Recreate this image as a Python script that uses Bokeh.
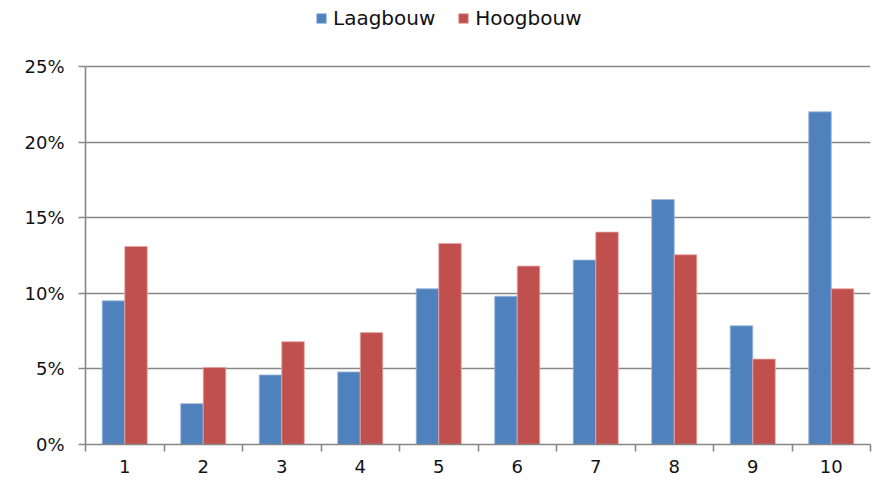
from bokeh.plotting import figure
from bokeh.models import FixedTicker, Legend, LegendItem, ColumnDataSource, CustomJSTickFormatter
from bokeh.embed import file_html
from bokeh.resources import INLINE

categories = [1, 2, 3, 4, 5, 6, 7, 8, 9, 10]
laagbouw = [9.5, 2.7, 4.6, 4.8, 10.3, 9.8, 12.2, 16.2, 7.85, 22.0]
hoogbouw = [13.1, 5.1, 6.8, 7.4, 13.3, 11.8, 14.05, 12.55, 5.65, 10.3]
y_ticks = [0, 5, 10, 15, 20, 25]

BAR_W = 0.287
FONT = "DejaVu Sans"
GRID = "#878787"
Y_MAX = 25
# frame spans the legend area too; axis and grid are bounded to 0..25
Y_TOP = Y_MAX * 444 / 378

p = figure(width=872, height=481, output_backend="svg", toolbar_location=None,
           x_range=(0.5, 10.5), y_range=(0, Y_TOP),
           min_border_left=85, min_border_right=2, min_border_top=0, min_border_bottom=37)
p.outline_line_color = None

src = ColumnDataSource(dict(
    xl=[c - BAR_W / 2 for c in categories],
    xh=[c + BAR_W / 2 for c in categories],
    laag=laagbouw, hoog=hoogbouw))

r1 = p.vbar(x="xl", top="laag", width=BAR_W, source=src, fill_color="#4F81BD",
            line_color="#9bb7dc", line_width=0.8)
r2 = p.vbar(x="xh", top="hoog", width=BAR_W, source=src, fill_color="#C0504D",
            line_color="#e6a9a7", line_width=0.8)

# x axis
p.xaxis.ticker = FixedTicker(ticks=categories, minor_ticks=[c - 0.5 for c in categories] + [categories[-1] + 0.5])
p.xaxis.major_tick_out = 0
p.xaxis.major_tick_in = 0
p.xaxis.minor_tick_out = 7
p.xaxis.minor_tick_in = 0
p.xaxis.minor_tick_line_color = GRID
p.xaxis.minor_tick_line_width = 1.6
p.xaxis.axis_line_color = GRID
p.xaxis.axis_line_width = 1.6
p.xaxis.major_label_text_font = FONT
p.xaxis.major_label_text_font_size = "18px"
p.xaxis.major_label_text_color = "#111111"
p.xaxis.major_label_standoff = 8
p.xgrid.grid_line_color = None

# y axis
p.yaxis.ticker = FixedTicker(ticks=y_ticks)
p.yaxis.bounds = (0, Y_MAX)
p.yaxis.formatter = CustomJSTickFormatter(code="return tick + '%';")
p.yaxis.major_tick_out = 7
p.yaxis.major_tick_in = 0
p.yaxis.minor_tick_out = 0
p.yaxis.minor_tick_in = 0
p.yaxis.major_tick_line_color = GRID
p.yaxis.major_tick_line_width = 1.6
p.yaxis.axis_line_color = GRID
p.yaxis.axis_line_width = 1.6
p.yaxis.major_label_text_font = FONT
p.yaxis.major_label_text_font_size = "18px"
p.yaxis.major_label_text_color = "#111111"
p.yaxis.major_label_standoff = 14
p.ygrid.ticker = FixedTicker(ticks=y_ticks)
p.ygrid.grid_line_color = GRID
p.ygrid.grid_line_width = 1.6

legend = Legend(items=[LegendItem(label="Laagbouw", renderers=[r1]),
                       LegendItem(label="Hoogbouw", renderers=[r2])],
                orientation="horizontal", location=(230, 414),
                border_line_color=None, background_fill_alpha=0,
                label_text_font=FONT, label_text_font_size="20px", label_text_color="#111111",
                glyph_width=12, glyph_height=12, spacing=22, label_standoff=6,
                padding=0, margin=0, label_height=20)
p.add_layout(legend)

open("out.html", "w").write(file_html(p, INLINE))
